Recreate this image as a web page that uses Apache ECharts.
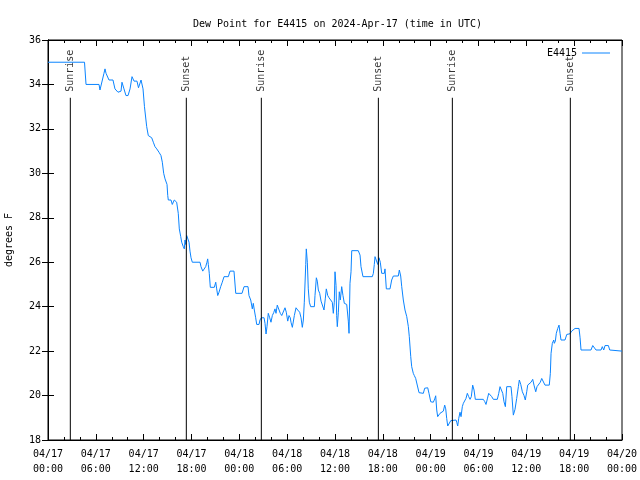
<!DOCTYPE html>
<html>
<head>
<meta charset="utf-8">
<script src="https://cdn.jsdelivr.net/npm/echarts@6/dist/echarts.min.js"></script>
<style>
  html, body { margin: 0; padding: 0; background: #fff; }
  #chart { width: 640px; height: 480px; }
</style>
</head>
<body>
<div id="chart"></div>
<script>
// Hours since 2024-04-17 00:00 UTC, dew point (°F)
const dewPoint = [
  [0,35.0],[4.58,35.0],[4.77,34.0],[6.40,34.0],[6.52,33.75],[6.77,33.75],[7.02,34.5],[7.15,34.7],[7.28,34.5],[7.65,34.2],
  [8.15,34.2],[8.40,33.8],[8.78,33.65],[9.16,33.7],[9.28,34.1],[9.53,33.8],[9.78,33.5],[10.04,33.5],[10.29,33.8],[10.54,34.35],
  [10.79,34.15],[11.16,34.15],[11.35,33.85],[11.67,34.2],[11.79,34.2],[11.92,33.8],[12.10,33.0],[12.29,33.0],[12.38,32.1],[12.58,31.7],
  [13.01,31.6],[13.21,31.4],[13.42,31.2],[13.64,31.1],[13.92,30.95],[14.17,30.8],[14.34,30.5],[14.51,30.0],[14.68,29.75],[14.93,29.5],
  [15.02,29.0],[15.09,28.8],[15.43,28.8],[15.59,28.6],[15.84,28.8],[16.14,28.7],[16.34,28.2],[16.47,27.5],[16.65,27.15],[16.77,26.9],
  [16.97,26.7],[17.10,26.6],[17.19,27.0],[17.27,26.8],[17.40,27.2],[17.60,27.2],[17.69,26.9],[17.81,26.5],[17.94,26.2],[18.10,26.0],
  [19.07,26.0],[19.19,25.8],[19.41,25.6],[19.61,25.6],[19.78,25.8],[19.94,26.0],[20.03,26.15],[20.11,25.9],[20.23,25.5],[20.36,24.87],
  [20.86,24.87],[21.04,25.1],[21.16,24.8],[21.29,24.5],[21.45,24.65],[21.66,24.9],[21.86,25.1],[22.08,25.35],[22.62,25.35],[22.83,25.6],
  [23.33,25.6],[23.55,24.6],[24.34,24.6],[24.59,24.9],[25.09,24.9],[25.21,24.5],[25.43,24.3],[25.63,23.9],[25.75,24.15],[25.88,23.85],
  [26.05,23.5],[26.18,23.2],[26.47,23.2],[26.59,23.4],[26.76,23.5],[27.10,23.5],[27.22,23.25],[27.35,22.77],[27.47,23.1],[27.63,23.7],
  [27.81,23.5],[27.97,23.3],[28.14,23.6],[28.31,23.73],[28.47,23.9],[28.60,23.7],[28.76,24.07],[28.98,24.07],[29.14,23.7],[29.32,23.6],
  [29.57,23.6],[29.73,23.95],[29.89,23.75],[30.07,23.35],[30.23,23.6],[30.39,23.5],[30.48,23.3],[30.65,23.07],[30.90,23.6],[31.11,23.95],
  [31.32,23.85],[31.57,23.75],[31.74,23.5],[31.90,23.07],[32.03,23.4],[32.15,24.2],[32.33,25.9],[32.40,26.6],[32.53,26.0],[32.65,24.8],
  [32.78,24.2],[32.95,24.0],[33.41,24.0],[33.49,24.5],[33.66,25.3],[33.78,25.15],[33.91,24.75],[34.08,24.6],[34.25,24.25],[34.41,24.3],
  [34.62,23.85],[34.78,24.35],[34.91,24.8],[35.09,24.5],[35.25,24.4],[35.50,24.4],[35.66,24.2],[35.79,23.7],[35.91,24.2],[36.00,25.57],
  [36.13,24.95],[36.21,23.6],[36.29,23.1],[36.42,23.75],[36.54,24.67],[36.67,24.3],[36.84,24.9],[37.00,24.5],[37.17,24.15],[37.47,24.1],
  [37.67,23.35],[37.76,22.8],[37.88,25.05],[38.01,25.57],[38.10,26.52],[38.92,26.52],[39.01,26.6],[39.14,26.32],[39.26,25.8],[39.51,25.35],
  [40.68,25.35],[40.81,25.5],[40.93,25.9],[41.02,26.25],[41.23,26.3],[41.36,25.9],[41.52,26.2],[41.68,26.0],[41.86,25.5],[42.19,25.5],
  [42.27,25.7],[42.44,24.8],[42.90,24.8],[43.11,25.2],[43.32,25.38],[43.94,25.38],[44.07,25.65],[44.24,25.38],[44.37,24.9],[44.57,24.3],
  [44.78,23.85],[45.00,23.55],[45.20,23.1],[45.32,22.65],[45.50,21.75],[45.62,21.3],[45.82,21.0],[45.95,20.9],[46.12,20.77],[46.33,20.77],
  [46.54,20.13],[46.66,20.1],[47.08,20.1],[47.25,20.33],[47.42,20.35],[47.63,20.35],[47.79,20.1],[48.01,19.72],[48.17,19.7],[48.33,19.7],
  [48.51,19.85],[48.63,19.99],[48.76,19.35],[48.88,19.05],[49.17,19.2],[49.39,19.27],[49.59,19.3],[49.76,19.57],[49.89,19.4],[50.01,18.97],
  [50.14,18.63],[50.34,18.63],[50.52,18.87],[50.64,18.9],[51.18,18.9],[51.27,18.8],[51.39,18.63],[51.52,18.97],[51.68,19.25],[51.81,19.05],
  [51.97,19.5],[52.10,19.65],[52.31,19.6],[52.43,19.87],[52.60,20.1],[52.77,19.95],[52.94,19.83],[53.10,19.95],[53.27,20.47],[53.44,20.25],
  [53.60,19.83],[54.60,19.83],[54.78,19.73],[54.94,19.6],[55.11,19.85],[55.28,20.1],[55.44,20.15],[55.66,19.95],[55.86,19.83],[56.36,19.83],
  [56.54,20.1],[56.70,20.4],[56.86,20.43],[57.04,20.1],[57.20,19.72],[57.37,19.5],[57.54,20.4],[58.08,20.4],[58.20,19.95],[58.37,19.12],
  [58.58,19.38],[58.79,19.87],[59.00,20.4],[59.12,20.7],[59.30,20.5],[59.50,20.17],[59.71,20.0],[59.87,19.8],[60.05,20.17],[60.17,20.47],
  [60.37,20.47],[60.59,20.6],[60.80,20.73],[60.96,20.47],[61.18,20.17],[61.34,20.4],[61.59,20.47],[61.75,20.6],[61.93,20.77],[62.13,20.77],
  [62.34,20.47],[62.88,20.47],[63.01,21.0],[63.10,21.9],[63.26,22.35],[63.44,22.5],[63.51,22.35],[63.64,22.45],[63.76,22.8],[63.94,23.02],
  [64.10,23.17],[64.23,22.8],[64.35,22.5],[64.85,22.5],[65.07,22.75],[65.27,22.78],[65.48,22.78],[65.69,22.9],[65.89,22.97],[66.11,23.02],
  [66.61,23.02],[66.74,22.6],[66.86,22.05],[68.11,22.05],[68.33,22.25],[68.53,22.28],[68.74,22.05],[69.37,22.05],[69.53,22.2],[69.71,22.05],
  [69.87,22.25],[70.29,22.25],[70.46,22.05],[70.71,22.0],[72.00,22.0]
];

// Sunrise / sunset markers (hours since start)
const eventHours  = [2.80, 17.35, 26.76, 41.44, 50.72, 65.52];
const eventLabels = ['Sunrise', 'Sunset', 'Sunrise', 'Sunset', 'Sunrise', 'Sunset'];
const eventLineTop = 33.4;

const xTickLabels = ['04/17\n00:00','04/17\n06:00','04/17\n12:00','04/17\n18:00','04/18\n00:00','04/18\n06:00',
  '04/18\n12:00','04/18\n18:00','04/19\n00:00','04/19\n06:00','04/19\n12:00','04/19\n18:00','04/20\n00:00'];

const yMin = 18, yMax = 36, yStep = 2;
const xMin = 0, xMax = 72, xStep = 6;

const FONT = 'DejaVu Sans Mono';
const LINE_COLOR = '#0a84ff';
const chart = echarts.init(document.getElementById('chart'), null, { renderer: 'canvas' });

const xCommon = {
  type: 'value', min: xMin, max: xMax, interval: xStep,
  axisLine: { show: true, lineStyle: { color: '#000', width: 1 } },
  axisTick: { show: true, inside: true, length: 6, lineStyle: { color: '#000' } },
  minorTick: { show: true, splitNumber: 3, length: 3, lineStyle: { color: '#000' } },
  splitLine: { show: false }, minorSplitLine: { show: false }
};
const yCommon = {
  type: 'value', min: yMin, max: yMax, interval: yStep,
  axisLine: { show: true, lineStyle: { color: '#000', width: 1 } },
  axisTick: { show: true, inside: true, length: 6, lineStyle: { color: '#000' } },
  splitLine: { show: false }
};

const series = [
  {
    name: 'E4415', type: 'line', data: dewPoint, showSymbol: false, symbol: 'none',
    lineStyle: { color: LINE_COLOR, width: 1 }, itemStyle: { color: LINE_COLOR },
    z: 3, silent: true, animation: false
  }
];
eventHours.forEach((h) => {
  series.push({
    type: 'line', data: [[h, yMin], [h, eventLineTop]], symbol: 'none', silent: true,
    lineStyle: { color: '#000', width: 1 }, z: 4, animation: false
  });
});
series.push({
  type: 'scatter', symbolSize: 0, silent: true, animation: false,
  data: eventHours.map((h, i) => ({ value: [h, eventLineTop], name: eventLabels[i] })),
  label: {
    show: true, position: 'top', distance: 6, rotate: 90, align: 'left', verticalAlign: 'middle',
    formatter: p => p.name, color: '#000', fontFamily: FONT, fontSize: 10
  }
});

chart.setOption({
  animation: false,
  backgroundColor: '#fff',
  textStyle: { fontFamily: FONT },
  title: {
    text: 'Dew Point for E4415 on 2024-Apr-17 (time in UTC)',
    left: 188, top: 14,
    textStyle: { fontFamily: FONT, fontSize: 10, fontWeight: 'normal', color: '#000' }
  },
  legend: {
    data: [{ name: 'E4415', icon: 'rect' }], right: 25, top: 43, align: 'right',
    itemWidth: 28, itemHeight: 1, itemGap: 6,
    itemStyle: { color: LINE_COLOR, borderWidth: 0 },
    lineStyle: { width: 0 },
    textStyle: { fontFamily: FONT, fontSize: 10, color: '#000' }
  },
  grid: {
    left: 48, right: 18, top: 40, bottom: 40, containLabel: false, outerBoundsMode: 'none',
    show: true, borderColor: '#000', borderWidth: 1, backgroundColor: 'transparent'
  },
  xAxis: [
    Object.assign({}, xCommon, {
      position: 'bottom',
      axisLabel: {
        show: true, margin: 7, color: '#000', fontFamily: FONT, fontSize: 10, lineHeight: 15,
        formatter: v => xTickLabels[Math.round((v - xMin) / xStep)] || ''
      }
    }),
    Object.assign({}, xCommon, { position: 'top', axisLabel: { show: false } })
  ],
  yAxis: [
    Object.assign({}, yCommon, {
      position: 'left',
      name: 'degrees F', nameLocation: 'middle', nameGap: 34, nameRotate: 90,
      nameTextStyle: { fontFamily: FONT, fontSize: 10, color: '#000' },
      axisLabel: { show: true, margin: 7, color: '#000', fontFamily: FONT, fontSize: 10 }
    }),
    Object.assign({}, yCommon, { position: 'right', axisLabel: { show: false } })
  ],
  series: series
});
</script>
</body>
</html>
